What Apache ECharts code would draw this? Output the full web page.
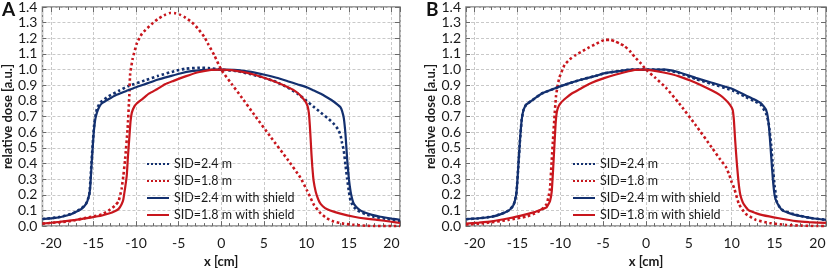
<!DOCTYPE html>
<html>
<head>
<meta charset="utf-8">
<script src="https://cdn.jsdelivr.net/npm/echarts@6/dist/echarts.min.js"></script>
<style>
  html, body { margin: 0; padding: 0; background: #fff; }
  #chart { width: 829px; height: 273px; }
</style>
</head>
<body>
<div id="chart"></div>
<script>
// 图例名称
const seriesNames = ['SID=2.4 m', 'SID=1.8 m', 'SID=2.4 m with shield', 'SID=1.8 m with shield'];
const panelLabels = ['A', 'B'];

// 面板A  [x cm, relative dose]
const A_sid24 = [[-21,0.045],[-19,0.058],[-17.5,0.08],[-16.5,0.11],[-15.9,0.14],[-15.5,0.2],[-15.3,0.35],[-15.1,0.52],[-14.9,0.66],[-14.6,0.75],[-14.2,0.79],[-13.2,0.83],[-12,0.865],[-10.9,0.895],[-9,0.93],[-7.4,0.96],[-5.5,0.99],[-4.3,1.005],[-2.5,1.012],[-1.5,1.01],[0,1.0],[1.9,0.99],[3.5,0.97],[5.1,0.947],[6.5,0.92],[7.8,0.886],[9,0.845],[9.9,0.806],[10.8,0.765],[11.7,0.725],[12.5,0.69],[13.2,0.655],[13.7,0.62],[14.0,0.584],[14.2,0.53],[14.4,0.48],[14.6,0.39],[14.8,0.3],[15.0,0.22],[15.2,0.16],[15.6,0.12],[16.0,0.1],[17.0,0.075],[17.9,0.06],[19.5,0.045],[21,0.03]];
const A_sid18 = [[-21,0.016],[-18,0.03],[-15.2,0.06],[-14,0.075],[-13.2,0.1],[-12.5,0.13],[-12.05,0.16],[-11.7,0.24],[-11.5,0.32],[-11.3,0.42],[-11.0,0.62],[-10.8,0.83],[-10.7,0.97],[-10.4,1.07],[-9.9,1.17],[-9.3,1.23],[-8.2,1.29],[-7.4,1.325],[-6.6,1.35],[-6.0,1.362],[-5.4,1.36],[-4.8,1.35],[-4.3,1.335],[-3.5,1.305],[-2.7,1.26],[-2.0,1.21],[-1.5,1.16],[-0.8,1.09],[0,1.0],[1.2,0.91],[2.3,0.83],[3.9,0.71],[5.8,0.57],[7.8,0.425],[9.3,0.31],[10.1,0.225],[10.5,0.18],[10.9,0.135],[11.7,0.08],[12.4,0.05],[13.2,0.03],[14.4,0.015],[15.6,0.008],[17,0.002],[18,0],[21,0]];
const A_sid24s = [[-21,0.044],[-19.5,0.052],[-18.7,0.06],[-17.8,0.072],[-17.1,0.09],[-16.4,0.11],[-15.9,0.14],[-15.6,0.18],[-15.4,0.24],[-15.2,0.42],[-15.0,0.58],[-14.8,0.68],[-14.6,0.725],[-14.3,0.765],[-14.0,0.785],[-13.2,0.812],[-12.4,0.836],[-11.2,0.862],[-10.1,0.886],[-8.7,0.912],[-7.4,0.937],[-6,0.958],[-4.7,0.977],[-3.5,0.99],[-2.3,0.997],[-1,1.0],[0,1.0],[1.9,0.997],[3.5,0.985],[5.1,0.967],[6.5,0.948],[7.8,0.926],[9,0.905],[10.1,0.886],[10.9,0.866],[11.7,0.846],[12.5,0.82],[13.2,0.796],[13.7,0.775],[14.0,0.76],[14.2,0.735],[14.4,0.69],[14.6,0.584],[14.8,0.423],[15.0,0.3],[15.2,0.22],[15.4,0.17],[15.6,0.14],[16.1,0.11],[16.7,0.09],[17.7,0.072],[18.7,0.06],[20,0.048],[21,0.04]];
const A_sid18s = [[-21,0.016],[-19,0.027],[-17.1,0.04],[-15.2,0.056],[-14,0.068],[-13.2,0.08],[-12.5,0.095],[-12.05,0.11],[-11.7,0.14],[-11.5,0.17],[-11.3,0.24],[-11.1,0.32],[-10.95,0.45],[-10.8,0.56],[-10.65,0.67],[-10.5,0.725],[-10.2,0.765],[-9.9,0.785],[-9.2,0.815],[-8.5,0.846],[-7.5,0.876],[-6.6,0.906],[-5.6,0.928],[-4.7,0.947],[-3.7,0.966],[-2.7,0.983],[-1.2,0.998],[0,1.0],[1.2,0.997],[2.5,0.985],[3.9,0.967],[5,0.948],[6.2,0.926],[7.4,0.898],[8.6,0.866],[9.3,0.835],[9.9,0.795],[10.15,0.765],[10.3,0.72],[10.4,0.65],[10.5,0.56],[10.6,0.46],[10.7,0.38],[10.85,0.29],[11.1,0.22],[11.4,0.17],[11.7,0.14],[12.2,0.115],[12.8,0.1],[14,0.08],[15.6,0.06],[17,0.048],[18.3,0.04],[20,0.028],[21,0.02]];

// 面板B
const B_sid24 = [[-21,0.044],[-19.5,0.05],[-18,0.06],[-17,0.075],[-16,0.1],[-15.5,0.13],[-15.3,0.16],[-15.1,0.22],[-14.9,0.38],[-14.7,0.55],[-14.5,0.68],[-14.3,0.74],[-14.0,0.775],[-13.76,0.785],[-13,0.815],[-12.2,0.846],[-11,0.872],[-9.87,0.896],[-8.7,0.917],[-7.5,0.937],[-6,0.958],[-4.8,0.977],[-3.2,0.99],[-1.7,1.0],[0,1.0],[2.3,0.998],[3.85,0.978],[5.8,0.94],[7.7,0.908],[10.1,0.866],[11.6,0.826],[12.6,0.8],[13.4,0.775],[14.0,0.72],[14.3,0.66],[14.6,0.52],[14.8,0.38],[15.0,0.26],[15.2,0.18],[15.3,0.15],[15.6,0.12],[16,0.1],[17,0.08],[18,0.065],[19.4,0.05],[21,0.04]];
const B_sid18 = [[-21,0.01],[-19,0.018],[-16,0.04],[-14,0.06],[-13,0.08],[-12.2,0.105],[-11.6,0.14],[-11.4,0.18],[-11.2,0.24],[-11.0,0.42],[-10.85,0.55],[-10.7,0.68],[-10.5,0.83],[-10.3,0.9],[-10.1,0.95],[-9.5,1.03],[-8.9,1.065],[-8.3,1.09],[-7.5,1.115],[-6.7,1.14],[-5.8,1.165],[-4.8,1.19],[-4.2,1.19],[-3.6,1.18],[-3.0,1.165],[-2.5,1.15],[-1.9,1.12],[-1.3,1.08],[-0.6,1.04],[0,1.0],[1.1,0.947],[2.3,0.886],[3.85,0.785],[5.8,0.645],[7.7,0.5],[8.6,0.43],[9.3,0.38],[9.7,0.33],[10.0,0.28],[10.3,0.24],[10.85,0.14],[11.6,0.08],[12.8,0.04],[14.4,0.02],[16.3,0.008],[18.2,0.003],[20,0],[21,0]];
const B_sid24s = [[-21,0.044],[-19.5,0.05],[-18,0.06],[-17,0.075],[-16,0.1],[-15.5,0.13],[-15.3,0.16],[-15.1,0.22],[-14.9,0.38],[-14.7,0.55],[-14.5,0.68],[-14.3,0.74],[-14.0,0.775],[-13.76,0.785],[-13,0.815],[-12.2,0.846],[-11,0.872],[-9.87,0.896],[-8.7,0.917],[-7.5,0.937],[-6,0.958],[-4.8,0.977],[-3.2,0.99],[-1.7,1.0],[0,1.0],[2.3,1.0],[3.85,0.983],[5.8,0.947],[7.7,0.916],[10.1,0.876],[11.6,0.836],[12.6,0.81],[13.4,0.785],[13.8,0.76],[14.0,0.745],[14.2,0.7],[14.4,0.6],[14.6,0.45],[14.8,0.3],[15.0,0.2],[15.2,0.16],[15.5,0.13],[15.9,0.1],[16.7,0.083],[17.5,0.07],[18.5,0.06],[19.4,0.05],[21,0.04]];
const B_sid18s = [[-21,0.016],[-19.5,0.022],[-18,0.03],[-16,0.05],[-14,0.075],[-13,0.09],[-12.3,0.105],[-11.6,0.12],[-11.2,0.16],[-11.0,0.22],[-10.85,0.35],[-10.7,0.5],[-10.55,0.65],[-10.4,0.73],[-10.2,0.765],[-9.9,0.79],[-9.3,0.82],[-8.7,0.846],[-7.7,0.876],[-6.7,0.906],[-5.8,0.928],[-4.8,0.947],[-3.6,0.967],[-2.5,0.983],[-1.3,0.998],[0,1.0],[1.9,0.983],[3.85,0.957],[5.8,0.916],[7.7,0.866],[8.6,0.838],[9.3,0.806],[9.8,0.775],[10.1,0.745],[10.25,0.68],[10.4,0.55],[10.6,0.4],[10.8,0.28],[11.0,0.2],[11.2,0.165],[11.4,0.14],[12.0,0.1],[12.8,0.083],[13.6,0.07],[15.5,0.05],[17.5,0.032],[19,0.025],[21,0.02]];

const panelData = [
  [A_sid24, A_sid18, A_sid24s, A_sid18s],
  [B_sid24, B_sid18, B_sid24s, B_sid18s],
];

const BLUE = '#13306f';
const RED = '#c8161d';
const lineColors = [BLUE, RED, BLUE, RED];
const lineTypes = ['dotted', 'dotted', 'solid', 'solid'];

const FONT = 'Lato';
const TXT = '#1a1a1a';
const gridLefts = [40, 466]; //每个面板的左边距
const legendLefts = [146, 572];

let grids = [], xAxes = [], yAxes = [], series = [], legends = [], graphics = [];

for (let p = 0; p < 2; p++) {
  grids.push({
    left: gridLefts[p], top: 5, width: 360, height: 232,
    show: true, borderColor: '#7f7f7f', borderWidth: 1.5,
  });
  const xBase = {
    gridIndex: p, type: 'value', min: -21, max: 21,
    axisLine: { show: false, onZero: false },
    splitLine: { show: false },
    axisLabel: { show: false },
  };
  // 主刻度 (下)
  xAxes.push(Object.assign({}, xBase, {
    position: 'bottom', splitNumber: 8,
    axisTick: { inside: true, length: 5, lineStyle: { color: '#6a6a6a' } },
    axisLabel: {
      show: true, margin: 10, fontSize: 14, fontFamily: FONT, color: TXT,
      formatter: v => (v % 5 === 0 ? String(v) : ''),
    },
    splitLine: { show: true, lineStyle: { color: '#c9c9c9', type: [3, 2], width: 1 } },
    name: 'x [cm]', nameLocation: 'middle', nameGap: 23,
    nameTextStyle: { fontSize: 13, fontWeight: 'bold', fontFamily: FONT, color: TXT },
  }));
  // 次刻度 (下)
  xAxes.push(Object.assign({}, xBase, {
    position: 'bottom', interval: 1,
    axisTick: { inside: true, length: 3, lineStyle: { color: '#6a6a6a' } },
  }));
  // 主刻度 (上)
  xAxes.push(Object.assign({}, xBase, {
    position: 'top', splitNumber: 8,
    axisTick: { inside: true, length: 5, lineStyle: { color: '#6a6a6a' } },
  }));
  // 次刻度 (上)
  xAxes.push(Object.assign({}, xBase, {
    position: 'top', interval: 1,
    axisTick: { inside: true, length: 3, lineStyle: { color: '#6a6a6a' } },
  }));

  yAxes.push({
    gridIndex: p, type: 'value', min: 0, max: 1.4, interval: 0.1, position: 'left',
    axisLine: { show: false, onZero: false },
    axisTick: { inside: true, length: 4, lineStyle: { color: '#6a6a6a' } },
    axisLabel: {
      margin: 5, fontSize: 14, fontFamily: FONT, color: TXT,
      formatter: v => v.toFixed(1),
    },
    splitLine: { show: true, lineStyle: { color: '#c9c9c9', type: [3, 2], width: 1 } },
    name: 'relative dose [a.u.]', nameLocation: 'middle', nameGap: 26,
    nameTextStyle: { fontSize: 13, fontWeight: 'bold', fontFamily: FONT, color: TXT },
  });
  yAxes.push({
    gridIndex: p, type: 'value', min: 0, max: 1.4, interval: 0.1, position: 'right',
    axisLine: { show: false, onZero: false },
    axisTick: { inside: true, length: 5, lineStyle: { color: '#6a6a6a' } },
    axisLabel: { show: false },
    splitLine: { show: false },
  });

  for (let s = 0; s < 4; s++) {
    series.push({
      type: 'line',
      name: seriesNames[s],
      xAxisIndex: p * 4,
      yAxisIndex: p * 2,
      data: panelData[p][s],
      showSymbol: false,
      symbol: 'none',
      smooth: 0.15,
      clip: true,
      lineStyle: { color: lineColors[s], width: s < 2 ? 2.6 : 2.2, type: lineTypes[s] },
      itemStyle: { color: lineColors[s] },
      z: 2 + s,
    });
  }

  legends.push({
    data: seriesNames,
    orient: 'vertical',
    left: legendLefts[p],
    top: 157,
    itemWidth: 22,
    itemHeight: 14,
    itemGap: 3,
    padding: 0,
    selectedMode: false,
    itemStyle: { opacity: 0 },
    textStyle: { fontSize: 12.5, fontFamily: FONT, color: TXT, lineHeight: 14 },
  });

  graphics.push({
    type: 'text',
    left: p === 0 ? 2 : 426,
    top: 0,
    style: { text: panelLabels[p], font: 'bold 19px ' + FONT, fill: '#111' },
  });
}

let chart = echarts.init(document.getElementById('chart'), null, { renderer: 'canvas' });
chart.setOption({
  animation: false,
  backgroundColor: '#fff',
  grid: grids,
  xAxis: xAxes,
  yAxis: yAxes,
  legend: legends,
  graphic: graphics,
  series: series,
});
</script>
</body>
</html>
